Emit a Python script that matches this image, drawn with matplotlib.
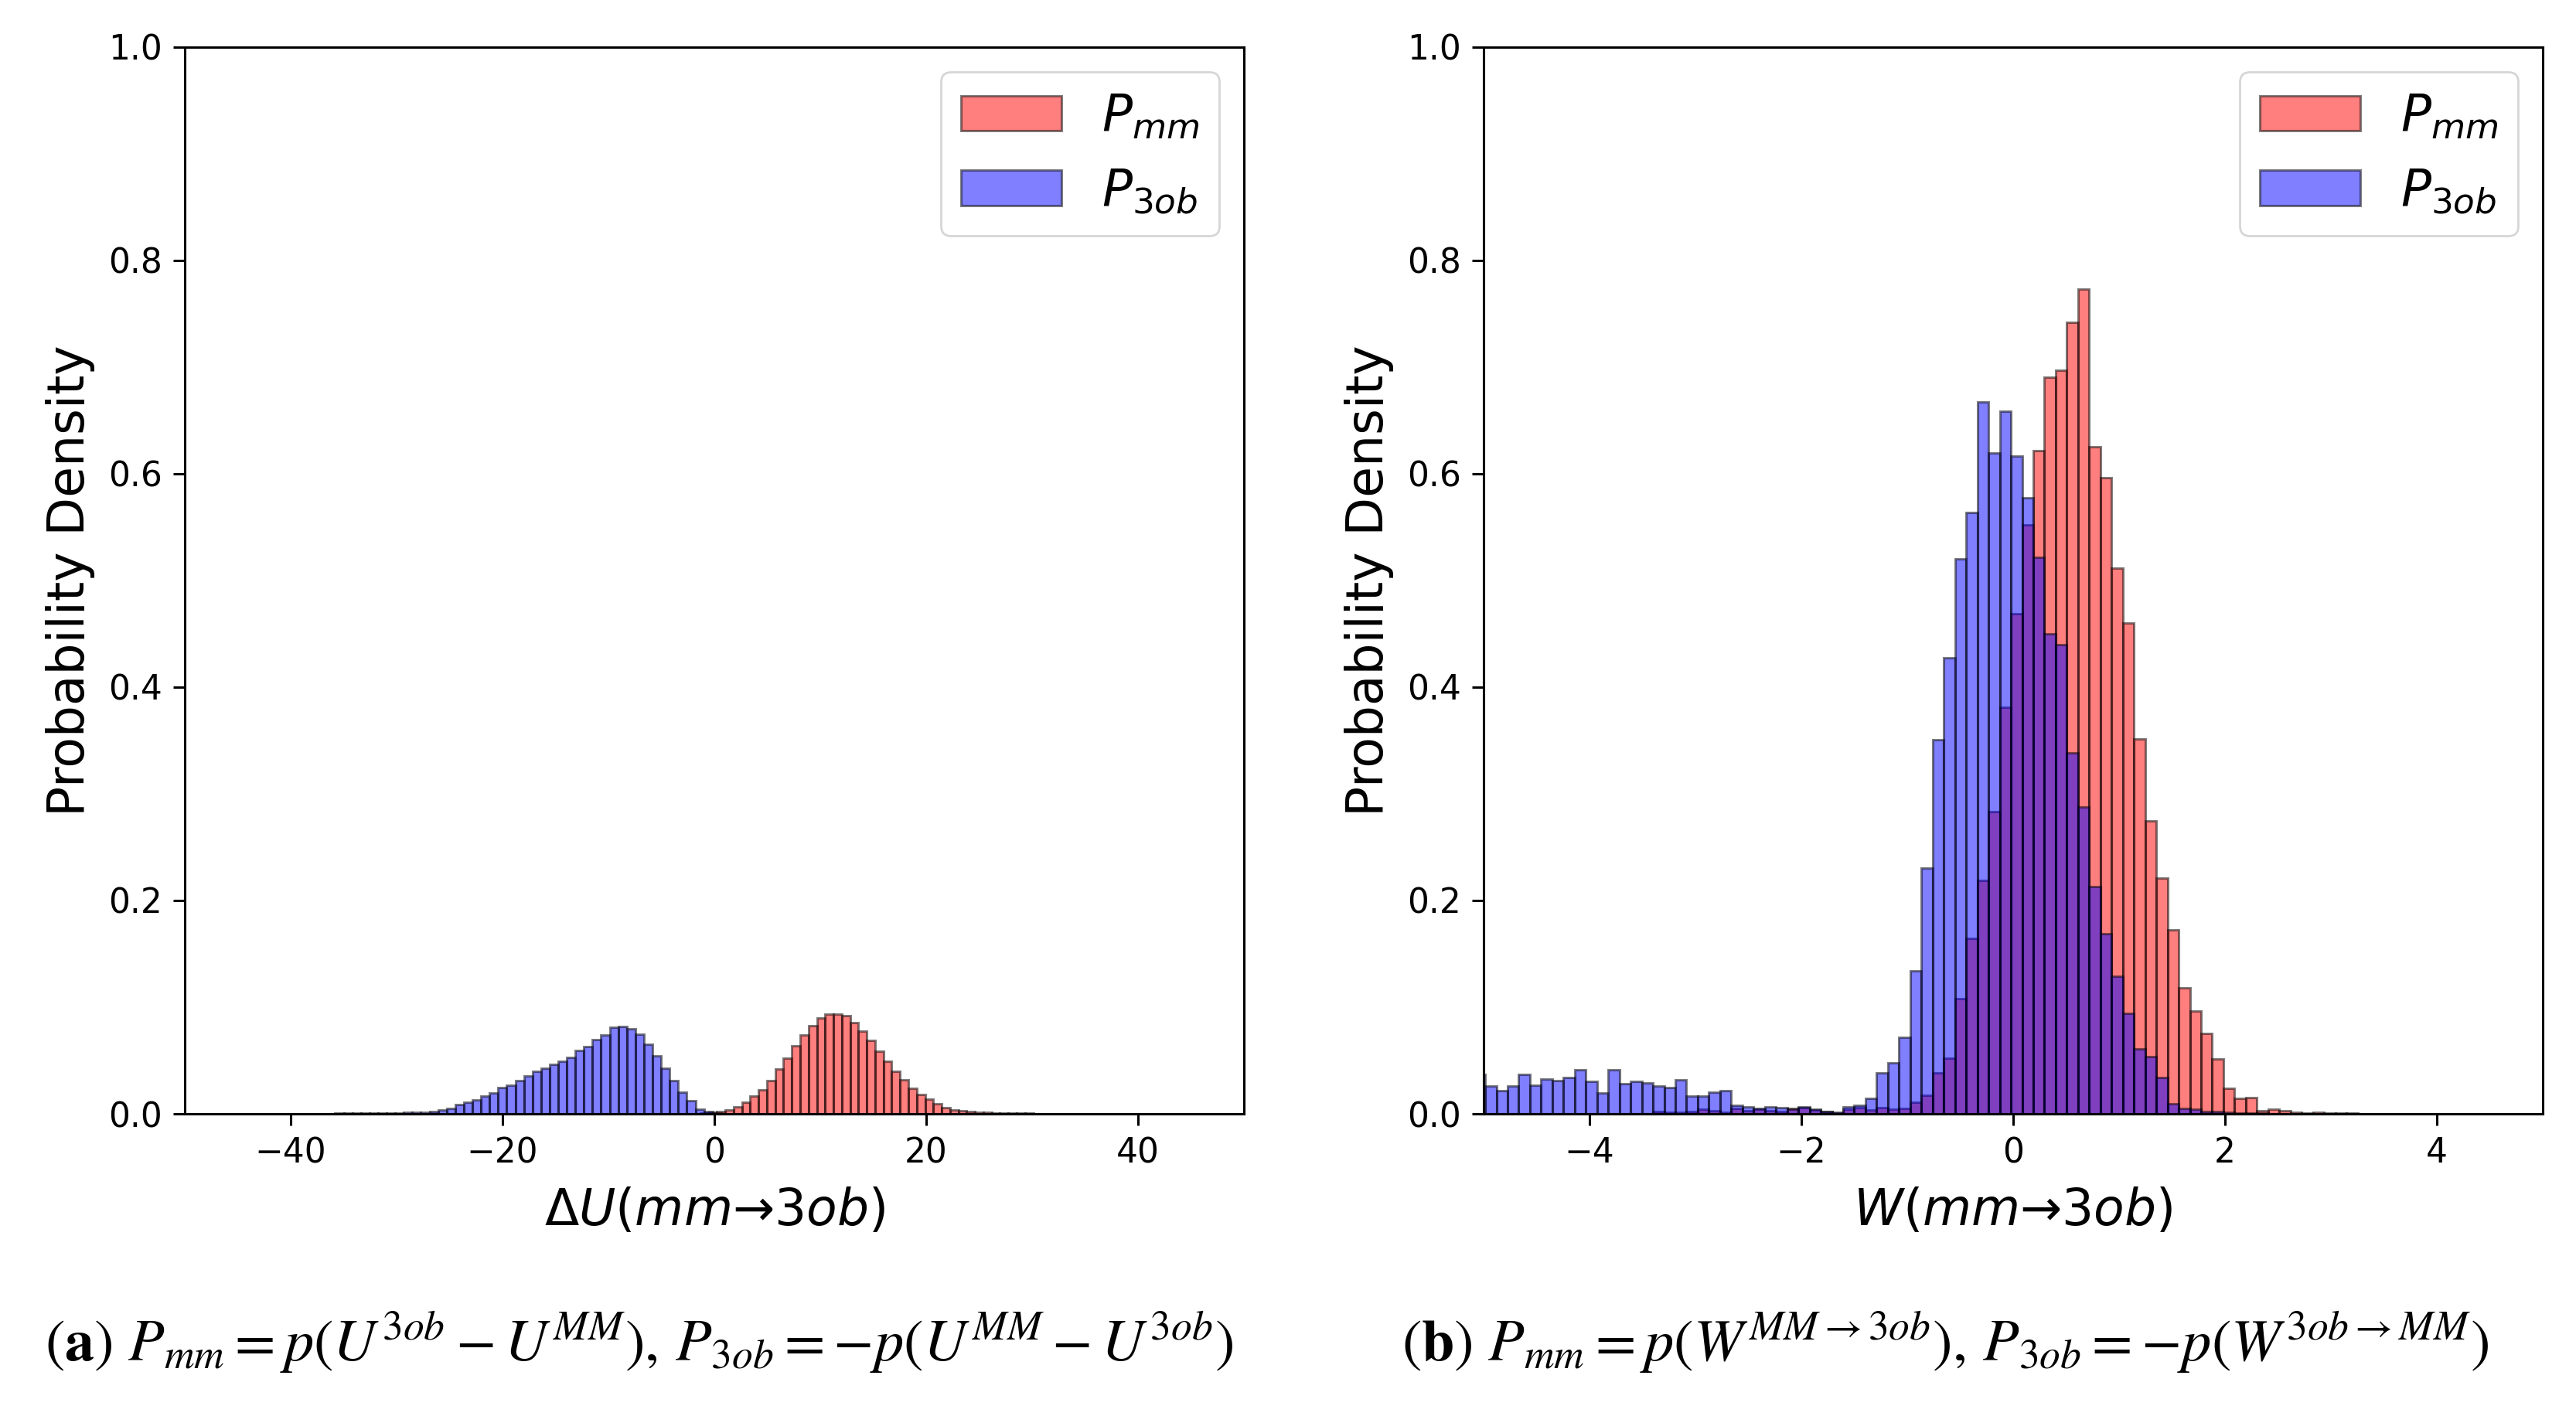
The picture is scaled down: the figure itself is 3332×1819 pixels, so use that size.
import numpy as np
import matplotlib
matplotlib.use("Agg")
import matplotlib.pyplot as plt
from matplotlib.patches import Patch

# ---- data: panel (a), Delta U (mm -> 3ob), 50 bins per series ----
du_mm_range = (-1.33, 37.97)
du_mm = [0.0008, 0.0015, 0.0024, 0.0039, 0.0068, 0.0111, 0.0164, 0.0225, 0.0314, 0.0418,
         0.0522, 0.0635, 0.0739, 0.0829, 0.0901, 0.0932, 0.0932, 0.0918, 0.0853, 0.0775,
         0.0691, 0.0587, 0.0490, 0.0400, 0.0321, 0.0242, 0.0181, 0.0135, 0.0092, 0.0056,
         0.0036, 0.0027, 0.0019, 0.0014, 0.0012, 0.0010, 0.0008, 0.0006, 0.0005, 0.0004,
         0.0003, 0.0003, 0.0002, 0.0002, 0.0001, 0.0001, 0.0001, 0.0001, 0.0000, 0.0001]

du_3ob_range = (-39.85, 0.65)
du_3ob = [0.0002, 0.0002, 0.0002, 0.0003, 0.0003, 0.0004, 0.0004, 0.0005, 0.0006, 0.0007,
          0.0008, 0.0010, 0.0010, 0.0011, 0.0015, 0.0017, 0.0024, 0.0039, 0.0048, 0.0085,
          0.0110, 0.0128, 0.0164, 0.0196, 0.0244, 0.0266, 0.0314, 0.0357, 0.0400, 0.0425,
          0.0464, 0.0490, 0.0527, 0.0594, 0.0628, 0.0696, 0.0739, 0.0812, 0.0816, 0.0797,
          0.0744, 0.0655, 0.0546, 0.0430, 0.0314, 0.0205, 0.0120, 0.0043, 0.0019, 0.0008]

# ---- data: panel (b), W (mm -> 3ob), shared bins ----
w_range = (-5.09, 3.2524)
w_mm = [0, 0, 0, 0, 0, 0, 0, 0, 0, 0,
        0, 0, 0, 0, 0, 0, 0.0019, 0.0015, 0.0015, 0.0020,
        0.0044, 0.0031, 0.0015, 0.0051, 0.0031, 0.0044, 0.0031, 0.0020, 0.0051, 0.0056,
        0.0039, 0.0019, 0.0010, 0.0044, 0.0056, 0.0039, 0.0056, 0.0044, 0.0051, 0.0111,
        0.0172, 0.0387, 0.0522, 0.1078, 0.1644, 0.2190, 0.2830, 0.3812, 0.4685, 0.5518,
        0.6215, 0.6908, 0.6973, 0.7423, 0.7730, 0.6255, 0.5965, 0.5115, 0.4600, 0.3513,
        0.2747, 0.2212, 0.1723, 0.1184, 0.0962, 0.0752, 0.0512, 0.0242, 0.0145, 0.0155,
        0.0030, 0.0044, 0.0030, 0.0015, 0.0010, 0.0015, 0.0005, 0.0010, 0.0005]

w_3ob = [0.0370, 0.0261, 0.0218, 0.0261, 0.0370, 0.0268, 0.0326, 0.0309, 0.0341, 0.0411,
         0.0305, 0.0198, 0.0411, 0.0285, 0.0302, 0.0292, 0.0261, 0.0249, 0.0317, 0.0169,
         0.0169, 0.0205, 0.0220, 0.0082, 0.0068, 0.0053, 0.0068, 0.0060, 0.0044, 0.0063,
         0.0044, 0.0024, 0.0015, 0.0068, 0.0080, 0.0145, 0.0387, 0.0479, 0.0716, 0.1344,
         0.2304, 0.3507, 0.4273, 0.5204, 0.5634, 0.6674, 0.6195, 0.6587, 0.6164, 0.5772,
         0.5216, 0.4503, 0.4399, 0.3385, 0.2875, 0.2134, 0.1692, 0.1288, 0.0945, 0.0612,
         0.0534, 0.0341, 0.0097, 0.0048, 0.0044, 0.0024, 0.0019, 0.0017, 0.0010, 0.0008,
         0.0005, 0, 0, 0, 0, 0, 0, 0, 0]

tick_fs = 15.8
label_fs = 23.3


def draw_hist(ax, heights, rng, color):
    edges = np.linspace(rng[0], rng[1], len(heights) + 1)
    ax.bar(edges[:-1], heights, width=np.diff(edges), align='edge',
           color=color, alpha=0.5, edgecolor='k', linewidth=1.1)


def style_axes(ax, xlabel, xlim, xticks):
    ax.set_xlim(*xlim)
    ax.set_ylim(0, 1)
    ax.set_xticks(xticks)
    ax.set_yticks(np.arange(0, 1.01, 0.2))
    ax.yaxis.set_major_formatter(matplotlib.ticker.FormatStrFormatter('%.1f'))
    ax.tick_params(labelsize=tick_fs, length=5.5, width=1.1, pad=5)
    for s in ax.spines.values():
        s.set_linewidth(1.1)
    ax.set_xlabel(xlabel, fontsize=label_fs, labelpad=8)
    ax.set_ylabel("Probability Density", fontsize=label_fs, labelpad=6)
    handles = [Patch(facecolor='red', alpha=0.5, edgecolor='k', linewidth=1.1),
               Patch(facecolor='blue', alpha=0.5, edgecolor='k', linewidth=1.1)]
    ax.legend(handles, [r'$P_{mm}$', r'$P_{3ob}$'], loc='upper right',
              fontsize=label_fs)


fig = plt.figure(figsize=(16.66, 9.095), dpi=200)
ax1 = fig.add_axes([0.0717, 0.2078, 0.4112, 0.7587])
ax2 = fig.add_axes([0.5759, 0.2078, 0.4112, 0.7587])

draw_hist(ax1, du_mm, du_mm_range, 'red')
draw_hist(ax1, du_3ob, du_3ob_range, 'blue')
style_axes(ax1, r'$\mathit{\Delta}U(mm$→$3ob)$', (-50, 50), [-40, -20, 0, 20, 40])

draw_hist(ax2, w_mm, w_range, 'red')
draw_hist(ax2, w_3ob, w_range, 'blue')
style_axes(ax2, r'$W(mm$→$3ob)$', (-5, 5), [-4, -2, 0, 2, 4])

cap_fs = 27.5
fig.text(0.248, 0.045,
         r'$(\mathbf{a})\ P_{mm} = p(U^{3ob} - U^{MM}),\, P_{3ob} = -p(U^{MM} - U^{3ob})$',
         ha='center', va='center', fontsize=cap_fs, math_fontfamily='stix')
fig.text(0.755, 0.045,
         r'$(\mathbf{b})\ P_{mm} = p(W^{MM\rightarrow 3ob}),\, P_{3ob} = -p(W^{3ob\rightarrow MM})$',
         ha='center', va='center', fontsize=cap_fs, math_fontfamily='stix')

fig.savefig("out.png", dpi=200)
